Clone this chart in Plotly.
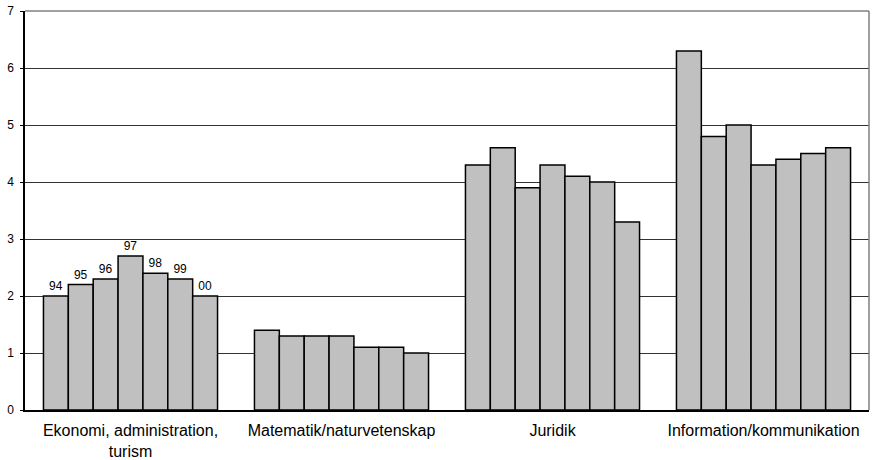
import plotly.graph_objects as go

categories = ["Ekonomi, administration,<br>turism", "Matematik/naturvetenskap", "Juridik", "Information/kommunikation"]
years = ["94", "95", "96", "97", "98", "99", "00"]
values = {
    "94": [2.0, 1.4, 4.3, 6.3],
    "95": [2.2, 1.3, 4.6, 4.8],
    "96": [2.3, 1.3, 3.9, 5.0],
    "97": [2.7, 1.3, 4.3, 4.3],
    "98": [2.4, 1.1, 4.1, 4.4],
    "99": [2.3, 1.1, 4.0, 4.5],
    "00": [2.0, 1.0, 3.3, 4.6],
}
y_ticks = [0, 1, 2, 3, 4, 5, 6, 7]

fig = go.Figure()
for yr in years:
    fig.add_trace(go.Bar(
        x=categories, y=values[yr], name=yr,
        marker=dict(color="#C0C0C0", line=dict(color="black", width=1.5)),
        text=[yr, "", "", ""], textposition="outside",
        textfont=dict(family="Liberation Sans, Arial", size=12, color="black"),
        cliponaxis=False,
    ))

fig.update_layout(
    width=878, height=460,
    margin=dict(l=25, r=9, t=11, b=50),
    paper_bgcolor="white", plot_bgcolor="white",
    barmode="group", bargap=0.175, bargroupgap=0,
    showlegend=False,
    font=dict(family="Liberation Sans, Arial", size=12, color="black"),
    uniformtext=dict(mode=False),
    shapes=[
        dict(type="line", xref="x domain", yref="y domain", x0=0, x1=1, y0=1, y1=1,
             line=dict(color="#808080", width=1.5), layer="above"),
        dict(type="line", xref="x domain", yref="y domain", x0=1, x1=1, y0=0, y1=1,
             line=dict(color="#808080", width=1.5), layer="above"),
    ],
)
fig.update_yaxes(range=[0, 7], tickvals=y_ticks, showgrid=True, gridcolor="#333333", gridwidth=1,
                 showline=True, linecolor="black", linewidth=1.5, ticks="outside", ticklen=3,
                 tickcolor="black", zeroline=False, tickfont=dict(size=12), automargin=False,
                 ticklabelstandoff=4, ticklabeloverflow="allow")
fig.update_xaxes(showline=True, linecolor="black", linewidth=1.5, ticks="", tickfont=dict(size=16),
                 automargin=False, ticklabelstandoff=5, ticklabeloverflow="allow")
fig.write_html("out.html", config={"displayModeBar": False},
               post_script="document.body.style.margin='0';")
